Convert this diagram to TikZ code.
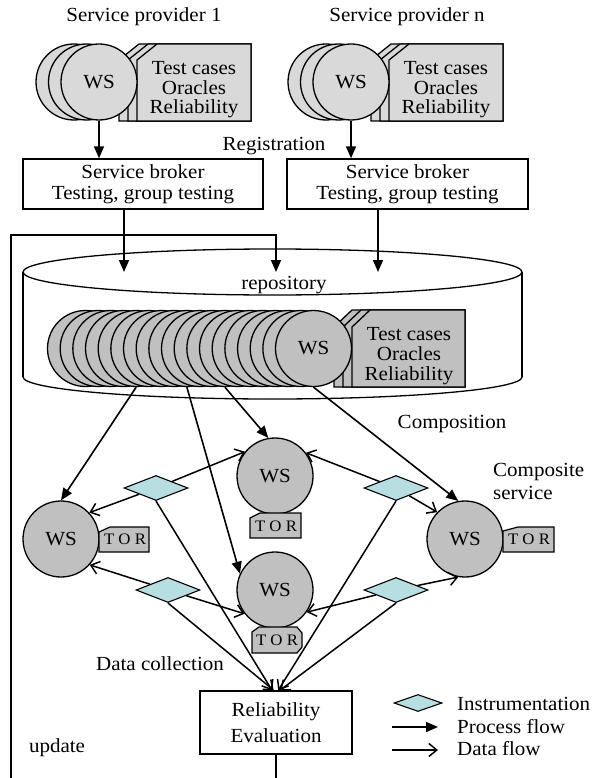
\documentclass[tikz,border=0pt]{standalone}
\usepackage{fontspec}
\setmainfont{Liberation Serif}[FakeStretch=1.05]
\usetikzlibrary{arrows.meta,shapes.geometric,calc}
\definecolor{pgray}{HTML}{D9D9D9}
\definecolor{wsgray}{HTML}{C0C0C0}
\definecolor{instrc}{HTML}{B7DFE2}
\begin{document}
\begin{tikzpicture}[x=1pt,y=-1pt,
  every node/.style={font=\fontsize{20}{21}\selectfont, inner sep=0pt},
  ws/.style={circle, draw, fill=wsgray, line width=1.3pt, minimum size=76pt},
  pws/.style={ws, fill=pgray},
  box/.style={draw, fill=white, line width=1.4pt, align=center},
  instr/.style={diamond, draw, fill=instrc, line width=1.1pt, minimum width=64pt, minimum height=25pt},
  proc/.style={line width=1.6pt, -{Triangle[length=12pt,width=10pt]}},
  dataf/.style={line width=1.5pt, -{Straight Barb[length=8pt,width=13pt]}},
  pagesty/.style={draw, line width=1.3pt},
  tagsty/.style={draw, fill=wsgray, line width=1.2pt},
  tor/.style={font=\fontsize{16}{16}\selectfont}
]
\useasboundingbox (0,0) rectangle (596,778);

% ---------- titles ----------
\node[anchor=base] (sp1) at (144,21.5) {Service provider 1};
\node[anchor=base] (spn) at (407,21.5) {Service provider n};
\node[anchor=base] (reg) at (274,150) {Registration};

% ---------- provider 1 ----------
\foreach \L in {119,128,137}
  \draw[pagesty, fill=pgray] (\L,121) -- (\L,60) -- (\L+20,44) -- (251,44) -- (251,121) -- cycle;
\node[pws] (p1c) at (74,82) {};
\node[pws] (p1b) at (86.5,82) {};
\node[pws] (p1) at (99,82) {WS};
\node[align=center, font=\fontsize{20}{19.5}\selectfont] (p1t) at (194,90) {Test cases\\Oracles\\Reliability};

% ---------- provider n ----------
\foreach \L in {371,380,389}
  \draw[pagesty, fill=pgray] (\L,121) -- (\L,60) -- (\L+20,44) -- (503,44) -- (503,121) -- cycle;
\node[pws] (pnc) at (326,82) {};
\node[pws] (pnb) at (338.5,82) {};
\node[pws] (pn) at (351,82) {WS};
\node[align=center, font=\fontsize{20}{19.5}\selectfont] (pnt) at (446,90) {Test cases\\Oracles\\Reliability};

% ---------- brokers ----------
\node[box, minimum width=240pt, minimum height=50pt, font=\fontsize{20}{21.5}\selectfont] (b1) at (143,184) {Service broker\\Testing, group testing};
\node[box, minimum width=241pt, minimum height=50pt, font=\fontsize{20}{21.5}\selectfont] (bn) at (407.5,184) {Service broker\\Testing, group testing};
\draw[proc] (p1.south) -- (p1.south |- b1.north);
\draw[proc] (pn.south) -- (pn.south |- bn.north);

% ---------- repository cylinder ----------
\draw[line width=1.3pt, fill=white] (272.5,377) ellipse [x radius=249.5pt, y radius=22pt];
\fill[white] (23,272) rectangle (522,377);
\draw[line width=1.3pt] (23,272) -- (23,377);
\draw[line width=1.3pt] (522,272) -- (522,377);
\draw[line width=1.3pt, fill=white] (272.5,272) ellipse [x radius=249.5pt, y radius=23pt];
\node[anchor=base] (repo) at (284,289) {repository};

\coordinate (rin1) at (124,272);
\coordinate (rin2) at (276,272);
\coordinate (rin3) at (378,272);
\draw[proc] (b1.south -| rin1) -- (rin1);
\draw[proc] (bn.south -| rin3) -- (rin3);

% ---------- repository stack ----------
\foreach \L in {334,343,352}
  \draw[pagesty, fill=wsgray] (\L,387) -- (\L,327) -- (\L+18,310) -- (465,310) -- (465,387) -- cycle;
\foreach \k in {0,...,17}
  \node[ws] (r\k) at ({85.5+12.67*\k},348.5) {};
\node[ws] (r18) at (313.5,348.5) {WS};
\node[align=center, font=\fontsize{20}{20}\selectfont] (rt) at (409,356.5) {Test cases\\Oracles\\Reliability};

% ---------- composite web services ----------
\node[ws] (A) at (61,539) {WS};
\node[ws] (B) at (275,476) {WS};
\node[ws] (C) at (275,590) {WS};
\node[ws] (D) at (465,539) {WS};

\draw[tagsty] (99,552) -- (99,532) -- (110,527) -- (149,527) -- (149,552) -- cycle;
\node[tor] (ta) at (125,539.5) {T O R};
\draw[tagsty] (250,538) -- (250,518) -- (260,513) -- (301,513) -- (301,538) -- cycle;
\node[tor] (tb) at (276,526) {T O R};
\draw[tagsty] (252,653) -- (252,632) -- (259,627) -- (297,627) -- (302,633) -- (302,647) -- (297,653) -- cycle;
\node[tor] (tc) at (277,640) {T O R};
\draw[tagsty] (503,552) -- (503,531) -- (518,527) -- (554,527) -- (554,552) -- cycle;
\node[tor] (td) at (529,539.5) {T O R};

% process flow from repository
\draw[proc] (r4.south) -- (A.north);
\draw[proc] (r11.south) -- (B.100);
\draw[proc] (r8.south) -- (C.155);
\draw[proc] (r18.south) -- (D.100);

% ---------- instrumentation ----------
\node[instr] (d1) at (156,488) {};
\node[instr] (d2) at (168,590) {};
\node[instr] (d3) at (396,488) {};
\node[instr] (d4) at (396,590) {};

\draw[dataf] (d1) -- (A.43);
\draw[dataf] (d1) -- (B.141);
\draw[dataf] (d2) -- (A.-42);
\draw[dataf] (d2) -- (C.218);
\draw[dataf] (d3) -- (B.37);
\draw[dataf] (d3) -- (D.136);
\draw[dataf] (d4) -- (C.-35);
\draw[dataf] (d4) -- (D.-100);

% ---------- reliability evaluation ----------
\node[box, minimum width=152pt, minimum height=63pt, font=\fontsize{20}{26}\selectfont] (re) at (276,722.5) {Reliability\\Evaluation};
\draw[dataf] (d1.south) -- (re.97);
\draw[dataf] (d2.south) -- (re.94);
\draw[dataf] (d3.south) -- (re.86);
\draw[dataf] (d4.south) -- (re.83);

% update loop
\draw[proc] (re.south) -- ++(0,80) -| (11,235) -| (rin2);

% ---------- labels ----------
\node[anchor=base] (comp) at (452,428) {Composition};
\node[anchor=west, align=left, font=\fontsize{20}{23}\selectfont] (cs) at (493,481.6) {Composite\\service};
\node[anchor=base] (dc) at (160,670) {Data collection};
\node[anchor=base] (upd) at (57,752) {update};

% ---------- legend ----------
\node[instr, minimum width=48pt, minimum height=17pt] (legd) at (418,703) {};
\node[anchor=base west] (legi) at (457,710) {Instrumentation};
\coordinate (lp1) at (392,727);
\coordinate (lp2) at (438,727);
\draw[proc] (lp1) -- (lp2);
\node[anchor=base west] (legp) at (457,733) {Process flow};
\coordinate (ld1) at (392,750);
\coordinate (ld2) at (438,750);
\draw[dataf] (ld1) -- (ld2);
\node[anchor=base west] (legdf) at (457,755) {Data flow};
\end{tikzpicture}
\end{document}
